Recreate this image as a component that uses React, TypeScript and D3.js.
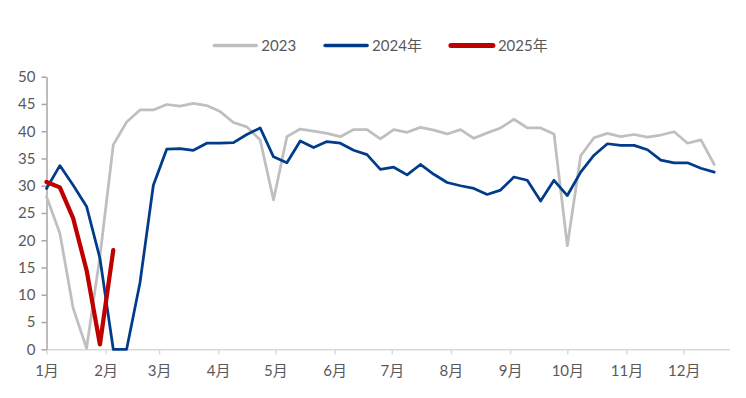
import { useEffect, useRef } from 'react'
import * as d3 from 'd3'

// weekly observation dates (month-day), same calendar for every year
const weeks = [
  '01-01', '01-08', '01-15', '01-22', '01-29',
  '02-05', '02-12', '02-19', '02-26',
  '03-05', '03-12', '03-19', '03-26',
  '04-02', '04-09', '04-16', '04-23', '04-30',
  '05-07', '05-14', '05-21', '05-28',
  '06-04', '06-11', '06-18', '06-25',
  '07-02', '07-09', '07-16', '07-23', '07-30',
  '08-06', '08-13', '08-20', '08-27',
  '09-03', '09-10', '09-17', '09-24',
  '10-01', '10-08', '10-15', '10-22', '10-29',
  '11-05', '11-12', '11-19', '11-26',
  '12-03', '12-10', '12-17',
]

const months = ['1月', '2月', '3月', '4月', '5月', '6月', '7月', '8月', '9月', '10月', '11月', '12月']
const yTicks = [0, 5, 10, 15, 20, 25, 30, 35, 40, 45, 50]

const v2023 = [
  28.0, 21.3, 7.5, 0.2, 17.0, 37.5, 41.7, 43.9, 43.9, 44.9, 44.6, 45.1, 44.7, 43.6, 41.6, 40.8, 38.4,
  27.4, 39.0, 40.4, 40.0, 39.6, 39.0, 40.3, 40.3, 38.6, 40.3, 39.8, 40.7, 40.2, 39.5, 40.3, 38.7,
  39.7, 40.6, 42.2, 40.6, 40.6, 39.5, 19.0, 35.5, 38.8, 39.6, 39.0, 39.4, 38.9, 39.3, 39.9, 37.8,
  38.4, 33.9,
]
const v2024 = [
  29.5, 33.7, 30.1, 26.2, 16.7, 0, 0, 12.2, 30.1, 36.7, 36.8, 36.5, 37.8, 37.8, 37.9, 39.4, 40.6,
  35.3, 34.2, 38.2, 37.0, 38.1, 37.8, 36.5, 35.7, 33.0, 33.4, 32.0, 33.9, 32.1, 30.6, 30.0, 29.5,
  28.4, 29.2, 31.6, 31.0, 27.2, 31.0, 28.2, 32.5, 35.6, 37.7, 37.4, 37.4, 36.6, 34.7, 34.2, 34.2,
  33.2, 32.5,
]
const v2025 = [30.7, 29.7, 24.0, 14.5, 0.9, 18.2]

const seriesNames = ['2023', '2024年', '2025年']
const seriesColors = ['#bfbfbf', '#003c8a', '#c00000']
const seriesWidths = [2.75, 2.75, 4.25]

const W = 746
const H = 398
const FONT = "Lato, 'Noto Sans CJK SC', sans-serif"

export default function App() {
  const svgRef = useRef<SVGSVGElement>(null)

  useEffect(() => {
    if (!svgRef.current) return
    const svg = d3.select(svgRef.current)
    svg.selectAll('*').remove()

    const parse = d3.timeParse('%Y-%m-%d')
    const dates = weeks.map(w => parse('2023-' + w) as Date)

    const x = d3
      .scaleTime()
      .domain([new Date(2023, 0, 1), new Date(2023, 11, 25)])
      .range([46.5, 729.5])

    const y = d3.scaleLinear().domain([0, 50]).range([349.3, 76.7])

    // X axis
    const monthStarts = d3.timeMonth.range(new Date(2023, 0, 1), new Date(2023, 11, 2))
    const xAxis = svg
      .append('g')
      .attr('transform', `translate(0, ${y(0)})`)
      .call(
        d3
          .axisBottom(x)
          .tickValues(monthStarts)
          .tickSizeInner(5)
          .tickSizeOuter(0)
          .tickPadding(11)
          .tickFormat((_, i) => months[i]) as any
      )
    xAxis.select('.domain').attr('stroke', '#d9d9d9').attr('stroke-width', 1.5)
    xAxis.selectAll('.tick line').attr('stroke', '#d9d9d9').attr('stroke-width', 1.5)
    xAxis
      .selectAll('text')
      .attr('fill', '#595959')
      .attr('font-size', 15)
      .attr('font-family', FONT)

    // Y axis
    const yAxis = svg
      .append('g')
      .attr('transform', `translate(${x.range()[0]}, 0)`)
      .call(d3.axisLeft(y).tickValues(yTicks).tickSizeInner(5).tickSizeOuter(0).tickPadding(6))
    yAxis.select('.domain').attr('stroke', '#a6a6a6').attr('stroke-width', 1.5)
    yAxis.selectAll('.tick line').attr('stroke', '#a6a6a6').attr('stroke-width', 1.5)
    yAxis
      .selectAll('text')
      .attr('fill', '#595959')
      .attr('font-size', 15)
      .attr('font-family', FONT)

    // Lines
    const line = d3
      .line<number>()
      .x((_, i) => x(dates[i]))
      .y(d => y(d))

    ;[v2023, v2024, v2025].forEach((vals, k) => {
      svg
        .append('path')
        .datum(vals)
        .attr('d', line)
        .attr('fill', 'none')
        .attr('stroke', seriesColors[k])
        .attr('stroke-width', seriesWidths[k])
        .attr('stroke-linejoin', 'round')
        .attr('stroke-linecap', 'round')
    })

    // Legend
    const legend = svg.append('g')
    const ly = 45.5
    const lineLen = 42
    let cx = 0
    seriesNames.forEach((name, k) => {
      const item = legend.append('g').attr('transform', `translate(${cx}, 0)`)
      item
        .append('line')
        .attr('x1', 0)
        .attr('x2', lineLen)
        .attr('y1', ly)
        .attr('y2', ly)
        .attr('stroke', seriesColors[k])
        .attr('stroke-width', k === 2 ? 5 : 3.5)
        .attr('stroke-linecap', 'round')
      const t = item
        .append('text')
        .attr('x', lineLen + 5)
        .attr('y', ly)
        .attr('dy', '0.35em')
        .attr('fill', '#595959')
        .attr('font-size', 15)
        .attr('font-family', FONT)
        .text(name)
      const tw = (t.node() as SVGTextElement).getComputedTextLength()
      cx += lineLen + 5 + tw + 29
    })
    const totalW = cx - 29
    legend.attr('transform', `translate(${381 - totalW / 2}, 0)`)
  }, [])

  return (
    <div style={{ position: 'absolute', left: 0, top: 0, width: W, height: H, background: '#fff' }}>
      <svg ref={svgRef} width={W} height={H} style={{ display: 'block' }} />
    </div>
  )
}
